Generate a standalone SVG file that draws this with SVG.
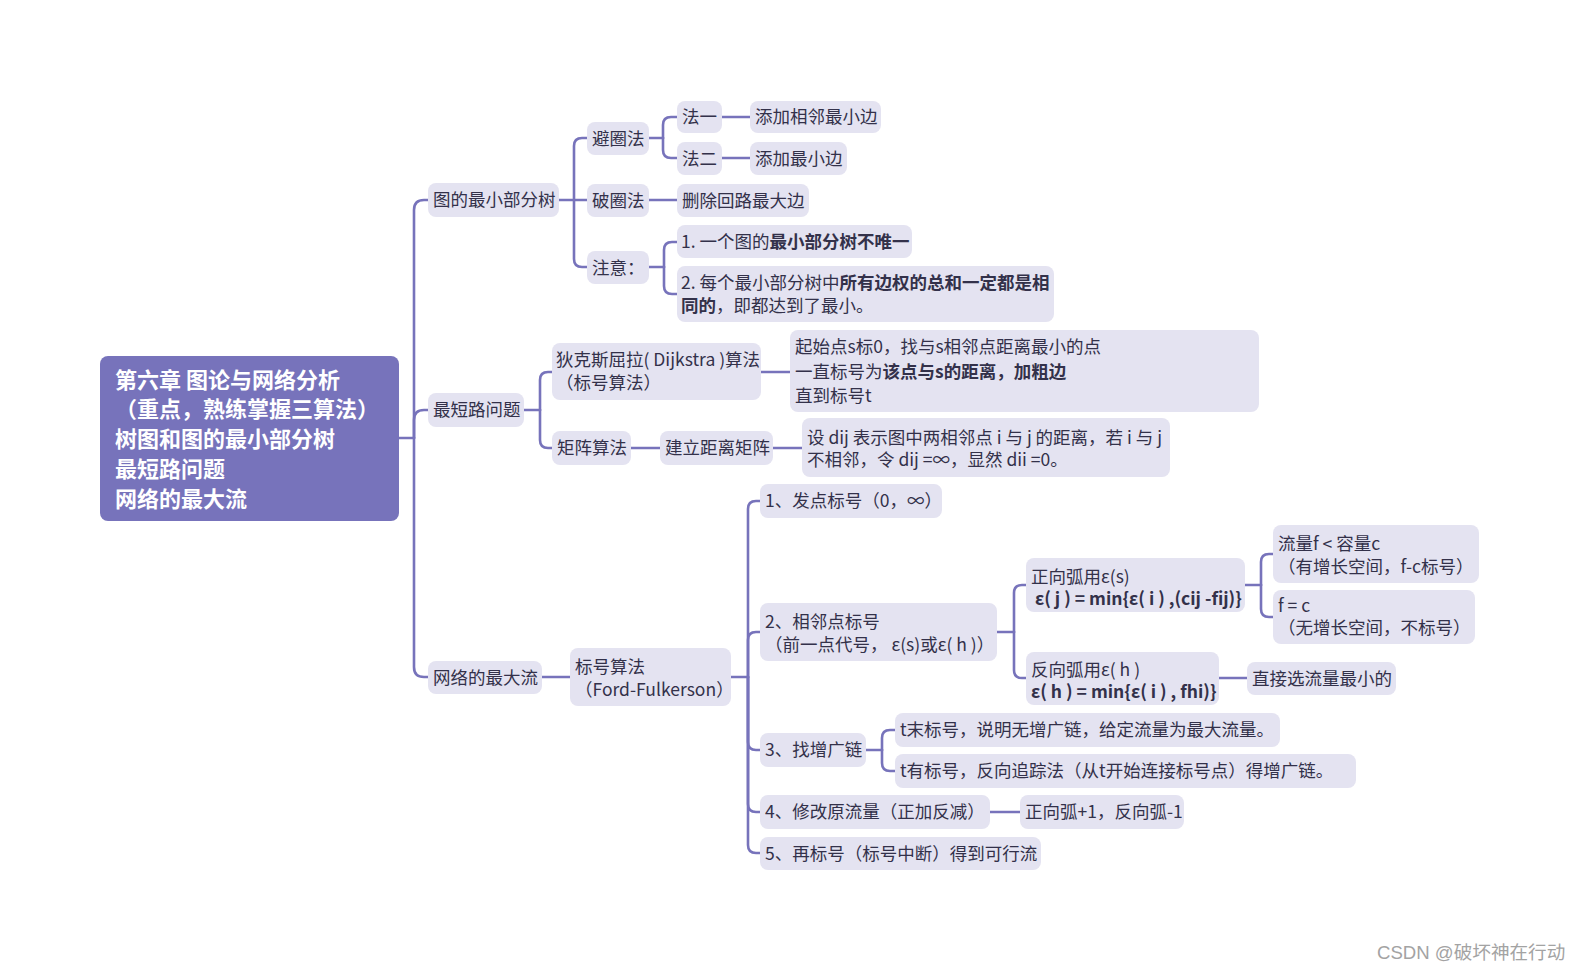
<svg xmlns="http://www.w3.org/2000/svg" width="1583" height="971" viewBox="0 0 1583 971">
<style>
.bg{fill:#ffffff}
.n{fill:#e4e3f1}
.root{fill:#7773bb}
.t{font-family:"Noto Sans CJK SC","Noto Sans",sans-serif;font-size:17.5px;fill:#33314a}
.rt{font-family:"Noto Sans CJK SC","Noto Sans",sans-serif;font-size:22px;font-weight:bold;fill:#ffffff}
.b{font-weight:bold}
.c path{fill:none;stroke:#7773bb;stroke-width:2.6;stroke-linecap:round}
.wm{font-family:"Liberation Sans","Noto Sans CJK SC",sans-serif;font-size:18.6px;fill:#a3a3a3}
</style>
<rect class="bg" x="0" y="0" width="1583" height="971"/>
<g class="c" id="connectors">
<path d="M399,438 H414"/>
<path d="M414,438 V210 Q414,200 424,200 H428"/>
<path d="M414,438 V420 Q414,410 424,410 H428"/>
<path d="M414,438 V667 Q414,677 424,677 H428"/>
<path d="M559,200 H587"/>
<path d="M574,200 V146 Q574,138 582,138 H587"/>
<path d="M574,200 V259 Q574,267 582,267 H587"/>
<path d="M649,138 H663"/>
<path d="M663,138 V125 Q663,117 671,117 H677"/>
<path d="M663,138 V150 Q663,158 671,158 H677"/>
<path d="M722,117 H750"/>
<path d="M722,158 H750"/>
<path d="M649,200 H677"/>
<path d="M649,267 H664"/>
<path d="M664,267 V250 Q664,242 672,242 H677"/>
<path d="M664,267 V286 Q664,294 672,294 H677"/>
<path d="M524,410 H540"/>
<path d="M540,410 V380 Q540,372 548,372 H552"/>
<path d="M540,410 V440 Q540,448 548,448 H552"/>
<path d="M761,372 H790"/>
<path d="M631,448 H660"/>
<path d="M773,448 H802"/>
<path d="M542,677 H570"/>
<path d="M731,677 H748"/>
<path d="M748,677 V509 Q748,501 756,501 H760"/>
<path d="M748,677 V640 Q748,632 756,632 H760"/>
<path d="M748,677 V742 Q748,750 756,750 H760"/>
<path d="M748,677 V804 Q748,812 756,812 H760"/>
<path d="M748,677 V845 Q748,853 756,853 H760"/>
<path d="M997,632 H1014"/>
<path d="M1014,632 V593 Q1014,585 1022,585 H1026"/>
<path d="M1014,632 V670 Q1014,678 1022,678 H1026"/>
<path d="M1245,585 H1261"/>
<path d="M1261,585 V562 Q1261,554 1269,554 H1273"/>
<path d="M1261,585 V609 Q1261,617 1269,617 H1273"/>
<path d="M1219,678 H1247"/>
<path d="M866,750 H882"/>
<path d="M882,750 V738 Q882,730 890,730 H895"/>
<path d="M882,750 V763 Q882,771 890,771 H895"/>
<path d="M990,812 H1020"/>
</g>
<g id="root">
<rect class="root" x="100" y="356" width="299" height="165" rx="8"/>
<text class="rt" x="115" y="388">第六章 图论与网络分析</text>
<text class="rt" x="115" y="417">（重点，熟练掌握三算法）</text>
<text class="rt" x="115" y="447">树图和图的最小部分树</text>
<text class="rt" x="115" y="477">最短路问题</text>
<text class="rt" x="115" y="507">网络的最大流</text>
</g>
<g id="n-mst"><rect class="n" x="428" y="183" width="131" height="34" rx="8"/><text class="t" x="433" y="206">图的最小部分树</text></g>
<g id="n-sp"><rect class="n" x="428" y="393" width="96" height="34" rx="8"/><text class="t" x="433" y="416">最短路问题</text></g>
<g id="n-mf"><rect class="n" x="428" y="661" width="114" height="33" rx="8"/><text class="t" x="433" y="684">网络的最大流</text></g>
<g id="n-bqf"><rect class="n" x="587" y="122" width="62" height="33" rx="8"/><text class="t" x="592" y="145">避圈法</text></g>
<g id="n-pqf"><rect class="n" x="587" y="184" width="62" height="33" rx="8"/><text class="t" x="592" y="207">破圈法</text></g>
<g id="n-zy"><rect class="n" x="587" y="251" width="62" height="33" rx="8"/><text class="t" x="592" y="274">注意：</text></g>
<g id="n-f1"><rect class="n" x="677" y="101" width="45" height="32" rx="8"/><text class="t" x="682" y="123">法一</text></g>
<g id="n-f2"><rect class="n" x="677" y="142" width="45" height="33" rx="8"/><text class="t" x="682" y="165">法二</text></g>
<g id="n-f1a"><rect class="n" x="750" y="101" width="131" height="32" rx="8"/><text class="t" x="755" y="123">添加相邻最小边</text></g>
<g id="n-f2a"><rect class="n" x="750" y="142" width="97" height="33" rx="8"/><text class="t" x="755" y="165">添加最小边</text></g>
<g id="n-pqa"><rect class="n" x="677" y="184" width="132" height="33" rx="8"/><text class="t" x="682" y="207">删除回路最大边</text></g>
<g id="n-zy1"><rect class="n" x="677" y="225" width="235" height="33" rx="8"/><text class="t" x="681" y="248">1. 一个图的<tspan class="b">最小部分树不唯一</tspan></text></g>
<g id="n-zy2"><rect class="n" x="677" y="266" width="377" height="56" rx="8"/><text class="t" x="681" y="289">2. 每个最小部分树中<tspan class="b">所有边权的总和一定都是相</tspan></text><text class="t" x="681" y="312"><tspan class="b">同的</tspan>，即都达到了最小。</text></g>
<g id="n-dij"><rect class="n" x="552" y="343" width="209" height="57" rx="8"/><text class="t" x="556" y="366">狄克斯屈拉( Dijkstra )算法</text><text class="t" x="556" y="389">（标号算法）</text></g>
<g id="n-dija"><rect class="n" x="790" y="330" width="469" height="82" rx="8"/><text class="t" x="795" y="353">起始点s标0，找与s相邻点距离最小的点</text><text class="t" x="795" y="378">一直标号为<tspan class="b">该点与s的距离，加粗边</tspan></text><text class="t" x="795" y="402">直到标号t</text></g>
<g id="n-jz"><rect class="n" x="552" y="431" width="79" height="34" rx="8"/><text class="t" x="557" y="454">矩阵算法</text></g>
<g id="n-jl"><rect class="n" x="660" y="431" width="113" height="34" rx="8"/><text class="t" x="665" y="454">建立距离矩阵</text></g>
<g id="n-jla"><rect class="n" x="802" y="418" width="368" height="59" rx="8"/><text class="t" x="807" y="444">设 dij 表示图中两相邻点 i 与 j 的距离，若 i 与 j</text><text class="t" x="807" y="466">不相邻，令 dij =∞，显然 dii =0。</text></g>
<g id="n-ff"><rect class="n" x="570" y="648" width="161" height="58" rx="8"/><text class="t" x="575" y="673">标号算法</text><text class="t" x="575" y="696">（Ford-Fulkerson）</text></g>
<g id="n-s1"><rect class="n" x="760" y="484" width="182" height="34" rx="8"/><text class="t" x="765" y="507">1、发点标号（0，∞）</text></g>
<g id="n-s2"><rect class="n" x="760" y="603" width="237" height="58" rx="8"/><text class="t" x="765" y="628">2、相邻点标号</text><text class="t" x="765" y="651">（前一点代号， ε(s)或ε( h )）</text></g>
<g id="n-zx"><rect class="n" x="1026" y="558" width="219" height="54" rx="8"/><text class="t" x="1031" y="583">正向弧用ε(s)</text><text class="t b" x="1035" y="605">ε( j ) = min{ε( i ) ,(cij -fij)}</text></g>
<g id="n-fx"><rect class="n" x="1026" y="652" width="193" height="53" rx="8"/><text class="t" x="1031" y="676">反向弧用ε( h )</text><text class="t b" x="1031" y="698">ε( h ) = min{ε( i ) , fhi)}</text></g>
<g id="n-fc1"><rect class="n" x="1273" y="525" width="206" height="58" rx="8"/><text class="t" x="1278" y="550">流量f &lt; 容量c</text><text class="t" x="1278" y="573">（有增长空间，f-c标号）</text></g>
<g id="n-fc2"><rect class="n" x="1273" y="590" width="202" height="54" rx="8"/><text class="t" x="1278" y="612">f = c</text><text class="t" x="1278" y="634">（无增长空间，不标号）</text></g>
<g id="n-zj"><rect class="n" x="1247" y="662" width="149" height="33" rx="8"/><text class="t" x="1252" y="685">直接选流量最小的</text></g>
<g id="n-s3"><rect class="n" x="760" y="733" width="106" height="34" rx="8"/><text class="t" x="765" y="756">3、找增广链</text></g>
<g id="n-t1"><rect class="n" x="895" y="713" width="385" height="34" rx="8"/><text class="t" x="900" y="736">t末标号，说明无增广链，给定流量为最大流量。</text></g>
<g id="n-t2"><rect class="n" x="895" y="754" width="461" height="34" rx="8"/><text class="t" x="900" y="777">t有标号，反向追踪法（从t开始连接标号点）得增广链。</text></g>
<g id="n-s4"><rect class="n" x="760" y="795" width="230" height="34" rx="8"/><text class="t" x="765" y="818">4、修改原流量（正加反减）</text></g>
<g id="n-s4a"><rect class="n" x="1020" y="795" width="164" height="34" rx="8"/><text class="t" x="1025" y="818">正向弧+1，反向弧-1</text></g>
<g id="n-s5"><rect class="n" x="760" y="837" width="281" height="33" rx="8"/><text class="t" x="765" y="860">5、再标号（标号中断）得到可行流</text></g>
<text class="wm" x="1377" y="959">CSDN @破坏神在行动</text>
</svg>
